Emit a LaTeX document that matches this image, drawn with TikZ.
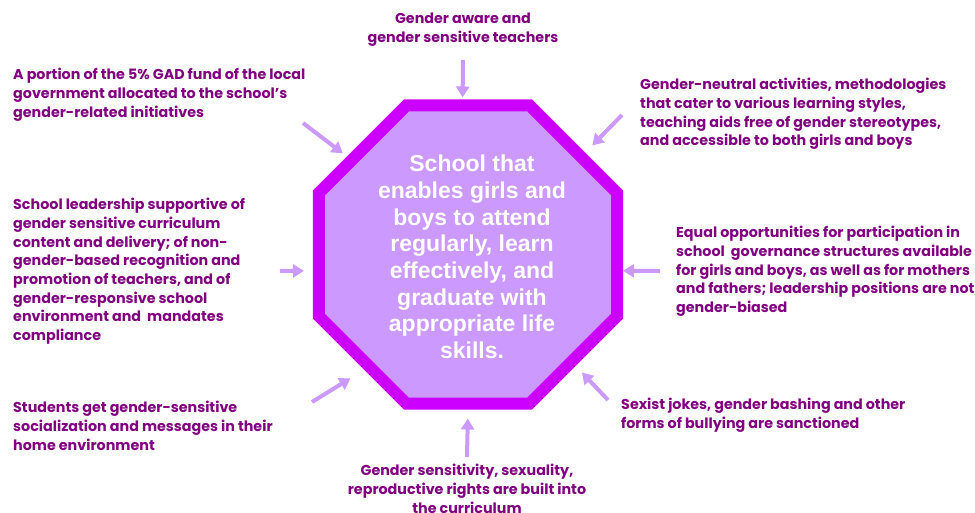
\documentclass[tikz,border=0pt]{standalone}
\usepackage{fontspec}
\setmainfont{Poppins}
\newfontfamily\goalfont{Liberation Sans}
\usetikzlibrary{shapes.geometric,arrows.meta}
\definecolor{octline}{RGB}{204,0,255}
\definecolor{octfill}{RGB}{204,153,255}
\definecolor{txtpurple}{RGB}{128,0,128}
\begin{document}
\begin{tikzpicture}[x=1pt, y=-1pt, >={Triangle[length=11pt,width=13pt]},
  feed/.style={->, line width=4pt, draw=octfill},
  txt/.style={text=txtpurple, font=\bfseries\fontsize{14.3}{18.7}\selectfont,
    inner sep=0pt, align=left, anchor=north west}]
\useasboundingbox (0,0) rectangle (975,512);

\node[regular polygon, regular polygon sides=8, minimum size=322.6pt,
  draw=octline, fill=octfill, line width=12pt] (school) at (468,254.5) {};
\node[text=white, font=\goalfont\bfseries\fontsize{23}{26.7}\selectfont, align=center]
  (goal) at (472,257) {School that\\enables girls and\\boys to attend\\regularly, learn\\effectively, and\\graduate with\\appropriate life\\skills.};

\node[txt, align=center, anchor=north] (teachers) at (463,13)
  {Gender aware and\\gender sensitive teachers};
\node[txt] (gad) at (13,68)
  {A portion of the 5\% GAD fund of the local\\government allocated to the school’s\\gender-related initiatives};
\node[txt] (methods) at (640,78)
  {Gender-neutral activities, methodologies\\that cater to various learning styles,\\teaching aids free of gender stereotypes,\\and accessible to both girls and boys};
\node[txt] (leadership) at (13,198)
  {School leadership supportive of\\gender sensitive curriculum\\content and delivery; of non-\\gender-based recognition and\\promotion of teachers, and of\\gender-responsive school\\environment and~ mandates\\compliance};
\node[txt] (equal) at (676,226)
  {Equal opportunities for participation in\\school~ governance structures available\\for girls and boys, as well as for mothers\\and fathers; leadership positions are not\\gender-biased};
\node[txt] (home) at (13,401)
  {Students get gender-sensitive\\socialization and messages in their\\home environment};
\node[txt] (bullying) at (621,398)
  {Sexist jokes, gender bashing and other\\forms of bullying are sanctioned};
\node[txt, align=center, anchor=north] (curriculum) at (467,464)
  {Gender sensitivity, sexuality,\\reproductive rights are built into\\the curriculum};

% arrows into the octagon
\coordinate (teacherstail) at (463,60);
\coordinate (gadtail) at (303,123);
\coordinate (methodstail) at (622,115);
\coordinate (leadershiptail) at (280,271);
\coordinate (equaltail) at (660,271);
\coordinate (hometail) at (312,402);
\coordinate (bullyingtail) at (608,400);
\coordinate (curriculumtail) at (467,457);
\draw[feed, shorten >=2pt] (teacherstail) -- (school.92);
\draw[feed, shorten >=5pt] (gadtail) -- (school.141);
\draw[feed, shorten >=10pt] (methodstail) -- (school.41);
\draw[feed, shorten >=9pt] (leadershiptail) -- (school.186);
\draw[feed] (equaltail) -- (school.354);
\draw[feed, shorten >=16pt] (hometail) -- (school.228);
\draw[feed, shorten >=9pt] (bullyingtail) -- (school.314);
\draw[feed, shorten >=9pt] (curriculumtail) -- (school.270);
\end{tikzpicture}
\end{document}
